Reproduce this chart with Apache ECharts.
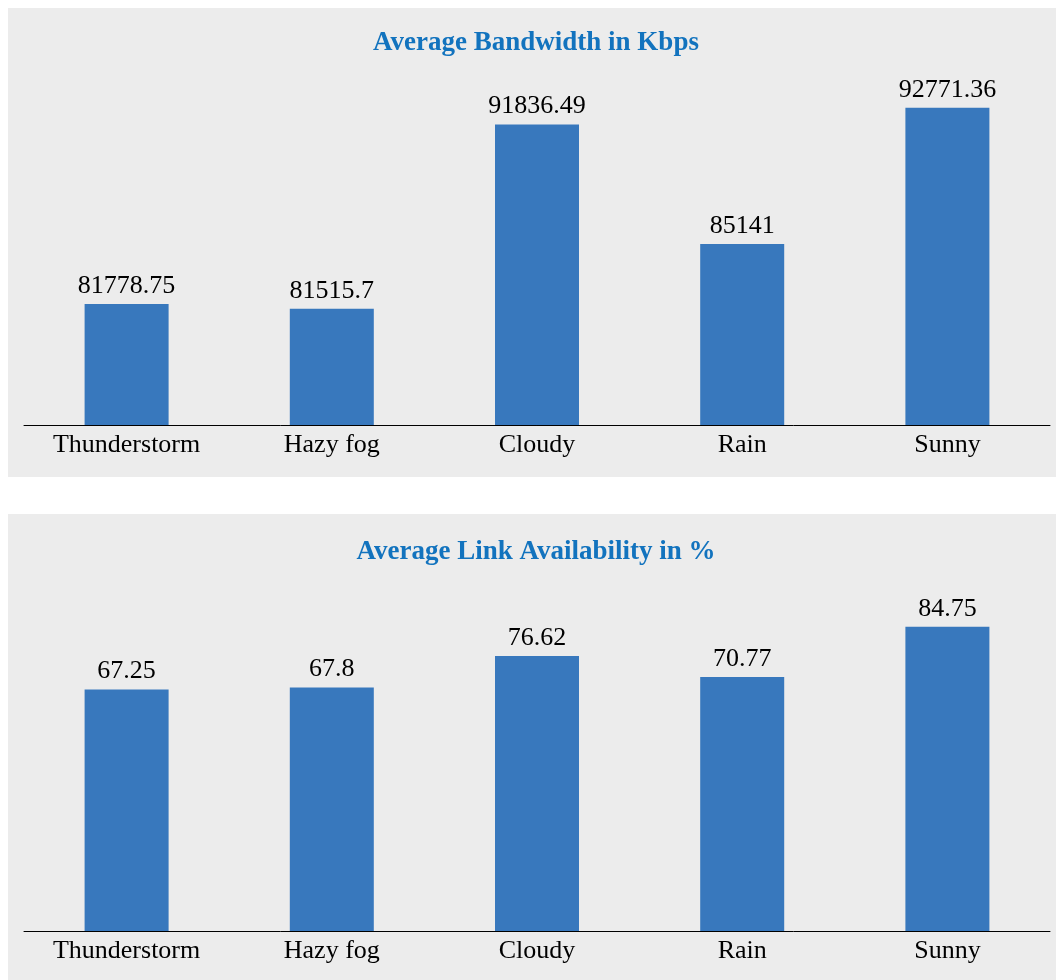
<!DOCTYPE html>
<html>
<head>
<meta charset="utf-8">
<script src="https://cdn.jsdelivr.net/npm/echarts@6/dist/echarts.min.js"></script>
<style>
  body{margin:0;background:#fff;}
  .panel{position:absolute;left:8px;width:1048px;background:#ececec;}
  #bw{top:8px;height:469px;}
  #avail{top:514px;height:466px;}
</style>
</head>
<body>
<div id="bw" class="panel"></div>
<div id="avail" class="panel"></div>
<script>
const categories = ['Thunderstorm', 'Hazy fog', 'Cloudy', 'Rain', 'Sunny']
const bandwidth = [81778.75, 81515.7, 91836.49, 85141, 92771.36]
const availability = [67.25, 67.8, 76.62, 70.77, 84.75]

const font = '"Liberation Serif", "Times New Roman", serif'

const getOptions = ({title, titleY, values, min, max, top, height}) => {
  return {
    animation: false,
    graphic: [{
      type: 'text',
      x: 528,
      y: titleY,
      style: {
        text: title,
        fill: '#1273be',
        font: 'bold 27px ' + font,
        align: 'center',
        verticalAlign: 'middle'
      }
    }],
    grid: {left: 16, width: 1026, top: top, height: height},
    xAxis: {
      type: 'category',
      data: categories,
      axisLine: {lineStyle: {color: '#000', width: 1}},
      axisTick: {show: false},
      axisLabel: {color: '#000', fontSize: 26, fontFamily: font, margin: 7}
    },
    yAxis: {type: 'value', min: min, max: max, show: false, splitLine: {show: false}},
    series: [{
      type: 'bar',
      data: values,
      barWidth: 84,
      itemStyle: {color: '#3878bd'},
      label: {show: true, position: 'top', color: '#000', fontSize: 26, fontFamily: font, distance: 5}
    }]
  }
}

const bwChart = echarts.init(document.getElementById('bw'))
bwChart.setOption(getOptions({
  title: 'Average Bandwidth in Kbps', titleY: 35,
  values: bandwidth, min: 75000, max: 95000, top: 60, height: 357
}))

const availChart = echarts.init(document.getElementById('avail'))
availChart.setOption(getOptions({
  title: 'Average Link Availability in %', titleY: 38,
  values: availability, min: 0, max: 100, top: 58, height: 359
}))
</script>
</body>
</html>
